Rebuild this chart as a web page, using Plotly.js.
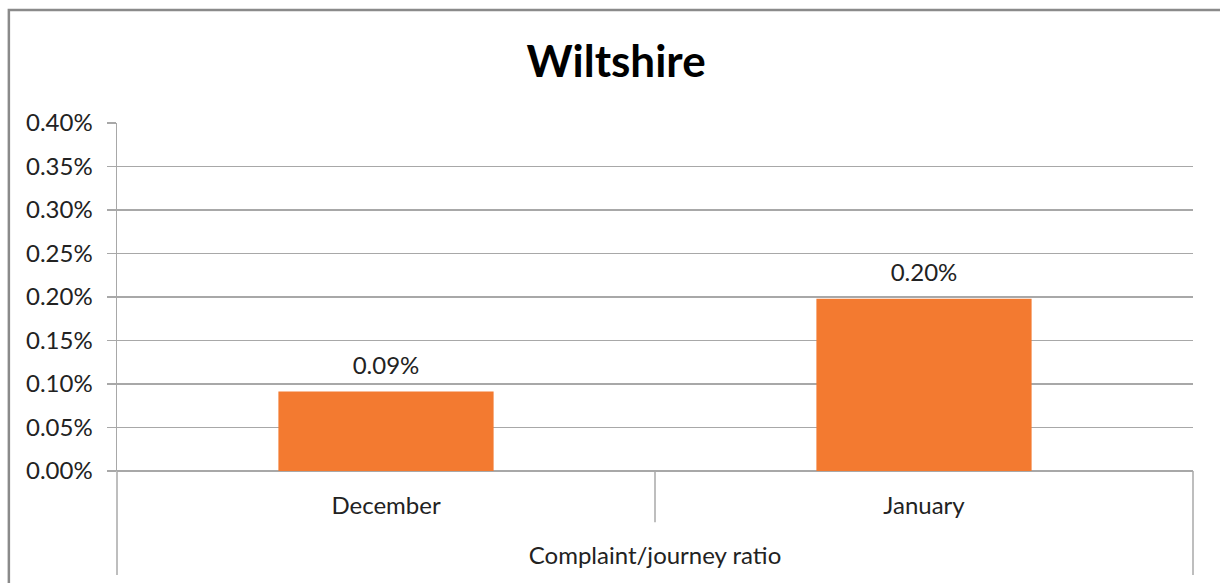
<!DOCTYPE html>
<html>
<head>
<meta charset="utf-8">
<script src="https://cdn.plot.ly/plotly-3.0.1.min.js"></script>
<style>html,body{margin:0;padding:0;background:#fff;}</style>
</head>
<body>
<div id="chart" style="width:1220px;height:583px;"></div>
<script>
const chartTitle = "Wiltshire";
const groupLabel = "Complaint/journey ratio";
const months = ["December", "January"];
const ratios = [0.000915, 0.00198];
const barColor = "#F37A30";

const FONT = "Lato, 'Open Sans', sans-serif";
const gridCol = "#A8A8A8";

const bars = {
  type: "bar",
  x: months,
  y: ratios,
  marker: {color: barColor},
  hoverinfo: "skip"
};

const labels = {
  type: "scatter",
  mode: "markers+text",
  x: months,
  y: ratios,
  texttemplate: "%{y:.2%}",
  textposition: "top center",
  textfont: {family: FONT, size: 24, color: "#222"},
  marker: {size: 17, opacity: 0, color: barColor},
  cliponaxis: false,
  hoverinfo: "skip"
};

const layout = {
  width: 1220,
  height: 583,
  margin: {l: 117, r: 27, t: 123, b: 112},
  paper_bgcolor: "#fff",
  plot_bgcolor: "#fff",
  showlegend: false,
  bargap: 0.6,
  font: {family: FONT, color: "#222"},
  title: {
    text: "<b>" + chartTitle + "</b>",
    font: {family: FONT, size: 44, color: "#000"},
    x: 0.505, xanchor: "center", y: 0.895, yanchor: "middle"
  },
  xaxis: {
    type: "category",
    showgrid: false,
    showline: false,
    ticks: "",
    ticklabelstandoff: 18,
    tickfont: {family: FONT, size: 24, color: "#222"},
    title: {text: groupLabel, font: {family: FONT, size: 24, color: "#222"}, standoff: 29},
    fixedrange: true
  },
  yaxis: {
    range: [0, 0.004],
    dtick: 0.0005,
    tick0: 0,
    tickformat: ".2%",
    showgrid: true,
    gridcolor: gridCol,
    gridwidth: 1.5,
    zeroline: true,
    zerolinecolor: gridCol,
    zerolinewidth: 1.5,
    showline: true,
    linecolor: gridCol,
    linewidth: 1.5,
    ticks: "outside",
    ticklen: 9,
    tickcolor: gridCol,
    tickwidth: 1.5,
    ticklabelstandoff: 9,
    tickfont: {family: FONT, size: 24, color: "#222"},
    fixedrange: true
  },
  shapes: [
    {type: "line", xref: "paper", yref: "paper", x0: 0, x1: 0, y0: 0, y1: -0.299,
     line: {color: gridCol, width: 1.5}},
    {type: "line", xref: "paper", yref: "paper", x0: 0.5, x1: 0.5, y0: 0, y1: -0.147,
     line: {color: gridCol, width: 1.5}},
    {type: "line", xref: "paper", yref: "paper", x0: 1, x1: 1, y0: 0, y1: -0.299,
     line: {color: gridCol, width: 1.5}},
    {type: "rect", xref: "paper", yref: "paper", x0: -0.1005, x1: 1.05, y0: -0.5, y1: 1.3247,
     line: {color: "#8A8A8A", width: 2.5}, fillcolor: "rgba(0,0,0,0)", layer: "below"}
  ]
};

Plotly.newPlot("chart", [bars, labels], layout, {displayModeBar: false, staticPlot: true});
</script>
</body>
</html>
